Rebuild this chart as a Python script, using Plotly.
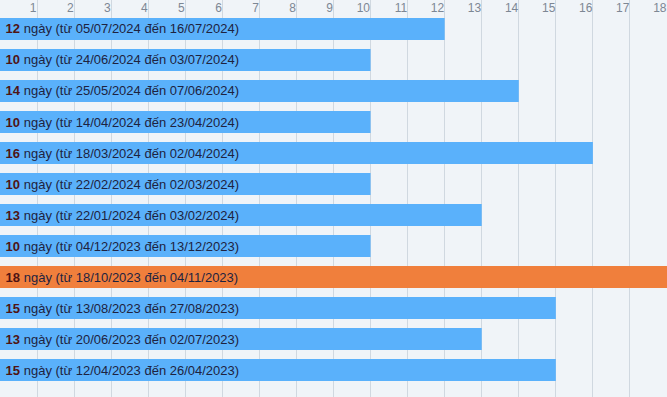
import plotly.graph_objects as go

durations = [12, 10, 14, 10, 16, 10, 13, 10, 18, 15, 13, 15]
start_dates = ["05/07/2024", "24/06/2024", "25/05/2024", "14/04/2024", "18/03/2024", "22/02/2024",
               "22/01/2024", "04/12/2023", "18/10/2023", "13/08/2023", "20/06/2023", "12/04/2023"]
end_dates = ["16/07/2024", "03/07/2024", "07/06/2024", "23/04/2024", "02/04/2024", "02/03/2024",
             "03/02/2024", "13/12/2023", "04/11/2023", "27/08/2023", "02/07/2023", "26/04/2023"]
x_ticks = list(range(1, 19))

BLUE = "#5ab1fb"
ORANGE = "#f07f3c"
max_d = max(durations)
colors = [ORANGE if d == max_d else BLUE for d in durations]
cats = [f"{s} - {e}" for s, e in zip(start_dates, end_dates)]
texts = [f"\u2009<span style='color:#4f1414'><b>{d}</b></span> ngày (từ {s} đến {e})"
         for d, s, e in zip(durations, start_dates, end_dates)]

fig = go.Figure(go.Bar(
    x=durations, y=cats, orientation="h",
    marker=dict(color=colors, line=dict(width=0)),
    width=0.71,
    text=texts, textposition="inside", insidetextanchor="start", textangle=0,
    textfont=dict(family="Liberation Sans, Arial, sans-serif", size=13, color="#1e2340"),
    hoverinfo="skip",
))

fig.update_layout(
    width=667, height=397,
    margin=dict(l=0, r=0, t=0, b=0, pad=0),
    paper_bgcolor="#f0f4f8", plot_bgcolor="#f0f4f8",
    showlegend=False,
    uniformtext=dict(minsize=13, mode="show"),
    xaxis=dict(
        side="top", range=[0, 18], tickvals=x_ticks, ticktext=[str(t) for t in x_ticks],
        ticklabelposition="inside left", ticks="", automargin=False,
        tickfont=dict(family="Liberation Sans, Arial, sans-serif", size=12, color="#7d8794"),
        showgrid=True, gridcolor="#d0d8e0", gridwidth=1,
        showline=True, mirror=True, linecolor="#d0d8e0", linewidth=1,
        zeroline=False, fixedrange=True,
    ),
    yaxis=dict(
        type="category", range=[11.87, -0.935], showticklabels=False, ticks="",
        automargin=False,
        showgrid=False, zeroline=False, showline=False, fixedrange=True,
    ),
)

fig.write_html(
    "out.html",
    config={"displayModeBar": False, "staticPlot": True},
    post_script="document.body.style.margin='0px';document.body.style.background='#f0f4f8';",
)
